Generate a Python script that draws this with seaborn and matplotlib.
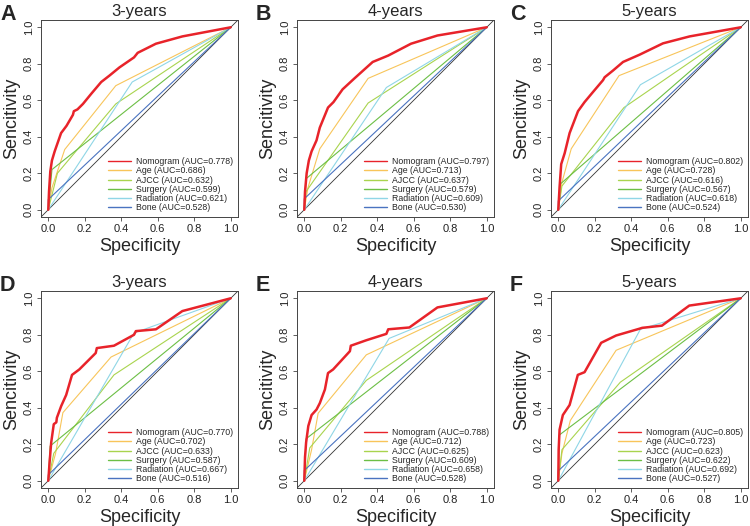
import matplotlib
matplotlib.use("Agg")
import matplotlib.pyplot as plt
import seaborn as sns
import pandas as pd

sns.set_style("ticks")
plt.rcParams['font.family'] = ['Liberation Sans', 'DejaVu Sans']

panel_letters = ["A", "B", "C", "D", "E", "F"]
panel_titles = ["3-years", "4-years", "5-years", "3-years", "4-years", "5-years"]
model_names = ["Nomogram", "Age", "AJCC", "Surgery", "Radiation", "Bone"]

# AUC values per panel (A..F)
auc_nomogram = [0.778, 0.797, 0.802, 0.770, 0.788, 0.805]
auc_age = [0.686, 0.713, 0.728, 0.702, 0.712, 0.723]
auc_ajcc = [0.632, 0.637, 0.616, 0.633, 0.625, 0.623]
auc_surgery = [0.599, 0.579, 0.567, 0.587, 0.609, 0.622]
auc_radiation = [0.621, 0.609, 0.618, 0.667, 0.658, 0.692]
auc_bone = [0.528, 0.530, 0.524, 0.516, 0.528, 0.527]

# ROC curves (x as plotted on the "Specificity" axis, y = sensitivity), per panel A..F
nomogram_x = [
    [0, 0.004, 0.011, 0.02, 0.035, 0.07, 0.10, 0.135, 0.14, 0.16, 0.19, 0.235, 0.29, 0.335, 0.39, 0.47, 0.49, 0.59, 0.735, 1],
    [0, 0.004, 0.013, 0.025, 0.04, 0.067, 0.085, 0.13, 0.16, 0.21, 0.275, 0.375, 0.46, 0.585, 0.73, 1],
    [0, 0.007, 0.016, 0.035, 0.062, 0.108, 0.144, 0.19, 0.245, 0.254, 0.30, 0.355, 0.446, 0.574, 0.72, 1],
    [0, 0.007, 0.016, 0.03, 0.044, 0.047, 0.071, 0.098, 0.13, 0.17, 0.26, 0.266, 0.36, 0.47, 0.48, 0.59, 0.735, 1],
    [0, 0.004, 0.01, 0.022, 0.04, 0.067, 0.085, 0.113, 0.13, 0.158, 0.25, 0.255, 0.34, 0.45, 0.46, 0.576, 0.73, 1],
    [0, 0.002, 0.007, 0.016, 0.025, 0.062, 0.107, 0.144, 0.235, 0.317, 0.444, 0.46, 0.568, 0.718, 1],
]
nomogram_y = [
    [0, 0.10, 0.21, 0.27, 0.32, 0.42, 0.46, 0.52, 0.54, 0.55, 0.58, 0.635, 0.70, 0.735, 0.78, 0.835, 0.86, 0.91, 0.95, 1],
    [0, 0.10, 0.20, 0.27, 0.32, 0.38, 0.45, 0.56, 0.59, 0.66, 0.72, 0.81, 0.845, 0.91, 0.955, 1],
    [0, 0.124, 0.25, 0.31, 0.42, 0.54, 0.59, 0.645, 0.71, 0.726, 0.763, 0.81, 0.85, 0.912, 0.95, 1],
    [0, 0.10, 0.21, 0.31, 0.32, 0.345, 0.41, 0.47, 0.58, 0.61, 0.70, 0.727, 0.74, 0.80, 0.82, 0.83, 0.93, 1],
    [0, 0.13, 0.21, 0.30, 0.36, 0.39, 0.425, 0.50, 0.59, 0.61, 0.71, 0.74, 0.77, 0.805, 0.83, 0.84, 0.95, 1],
    [0, 0.17, 0.28, 0.32, 0.36, 0.415, 0.58, 0.595, 0.756, 0.796, 0.833, 0.838, 0.85, 0.96, 1],
]
age_x = [
    [0, 0.02, 0.09, 0.37, 1],
    [0, 0.02, 0.085, 0.35, 1],
    [0, 0.02, 0.071, 0.333, 1],
    [0, 0.04, 0.08, 0.344, 1],
    [0, 0.04, 0.076, 0.34, 1],
    [0, 0.02, 0.066, 0.317, 1],
]
age_y = [
    [0, 0.12, 0.33, 0.68, 1],
    [0, 0.12, 0.334, 0.72, 1],
    [0, 0.15, 0.334, 0.735, 1],
    [0, 0.15, 0.373, 0.678, 1],
    [0, 0.17, 0.37, 0.69, 1],
    [0, 0.15, 0.33, 0.715, 1],
]
ajcc_x = [
    [0, 0.05, 0.37, 1],
    [0, 0.01, 0.35, 1],
    [0, 0.02, 0.36, 1],
    [0, 0.03, 0.36, 1],
    [0, 0.03, 0.34, 1],
    [0, 0.02, 0.34, 1],
]
ajcc_y = [
    [0, 0.20, 0.58, 1],
    [0, 0.10, 0.585, 1],
    [0, 0.13, 0.56, 1],
    [0, 0.15, 0.58, 1],
    [0, 0.18, 0.55, 1],
    [0, 0.17, 0.54, 1],
]
surgery_x = [
    [0, 0.02, 1],
    [0, 0.01, 1],
    [0, 0.01, 1],
    [0, 0.01, 1],
    [0, 0.01, 1],
    [0, 0.005, 1],
]
surgery_y = [
    [0, 0.22, 1],
    [0, 0.17, 1],
    [0, 0.14, 1],
    [0, 0.19, 1],
    [0, 0.23, 1],
    [0, 0.25, 1],
]
radiation_x = [
    [0, 0.46, 1],
    [0, 0.45, 1],
    [0, 0.45, 1],
    [0, 0.47, 1],
    [0, 0.465, 1],
    [0, 0.45, 1],
]
radiation_y = [
    [0, 0.70, 1],
    [0, 0.67, 1],
    [0, 0.685, 1],
    [0, 0.81, 1],
    [0, 0.78, 1],
    [0, 0.83, 1],
]
bone_x = [
    [0, 0, 1],
    [0, 0, 1],
    [0, 0, 1],
    [0, 0, 1],
    [0, 0, 1],
    [0, 0, 1],
]
bone_y = [
    [0, 0.056, 1],
    [0, 0.06, 1],
    [0, 0.048, 1],
    [0, 0.032, 1],
    [0, 0.056, 1],
    [0, 0.054, 1],
]

colors = ["#E8232A", "#F8C55A", "#A9D44E", "#6CBF45", "#8FD6E6", "#4A73C0"]
widths = [1.8, 0.8, 0.8, 0.8, 0.8, 0.8]

all_x = [nomogram_x, age_x, ajcc_x, surgery_x, radiation_x, bone_x]
all_y = [nomogram_y, age_y, ajcc_y, surgery_y, radiation_y, bone_y]
all_auc = [auc_nomogram, auc_age, auc_ajcc, auc_surgery, auc_radiation, auc_bone]

fig = plt.figure(figsize=(7.5, 5.26), dpi=100)
W, H = 750, 526
lefts = [41, 297, 551]
tops = [20, 291]
aw, ah = 197, 197

ticks = [0.0, 0.2, 0.4, 0.6, 0.8, 1.0]
tick_labels = ["0.0", "0.2", "0.4", "0.6", "0.8", "1.0"]

for p in range(6):
    r, c = divmod(p, 3)
    l = lefts[c]
    t = tops[r]
    ax = fig.add_axes([l / W, 1 - (t + ah) / H, aw / W, ah / H])
    ax.axline((0, 0), slope=1, color="#333333", lw=0.6, zorder=1)
    for m in range(6):
        df = pd.DataFrame({"x": all_x[m][p], "y": all_y[m][p]})
        label = f"{model_names[m]} (AUC={all_auc[m][p]:.3f})"
        sns.lineplot(data=df, x="x", y="y", sort=False, estimator=None,
                     color=colors[m], lw=widths[m], ax=ax, label=label,
                     zorder=3 if m == 0 else 2)
    ax.set_xlim(-0.04, 1.04)
    ax.set_ylim(-0.04, 1.04)
    ax.set_xticks(ticks)
    ax.set_xticklabels(tick_labels, fontsize=8, color="#222222")
    ax.set_yticks(ticks)
    ax.set_yticklabels(tick_labels, fontsize=8, color="#222222", rotation=90, va="center")
    ax.tick_params(axis="both", length=3, width=0.6, pad=2, color="#444444")
    for s in ax.spines.values():
        s.set_visible(True)
        s.set_linewidth(0.7)
        s.set_color("#444444")
    ax.set_xlabel("Specificity", fontsize=13, labelpad=3)
    ax.set_ylabel("Sencitivity", fontsize=13, labelpad=3)
    ax.set_title(panel_titles[p], fontsize=12, pad=3)
    ax.text(-0.208, 1.0, panel_letters[p], transform=ax.transAxes,
            fontsize=15.5, fontweight="bold", va="baseline", ha="left")
    leg = ax.legend(loc="lower right", frameon=False, fontsize=6.3,
                    handlelength=2.6, handletextpad=0.6, labelspacing=0.02,
                    borderaxespad=0.15, bbox_to_anchor=(1.0, 0.0))
    for line in leg.get_lines():
        line.set_linewidth(1.0)

fig.savefig("out.png", dpi=100)
